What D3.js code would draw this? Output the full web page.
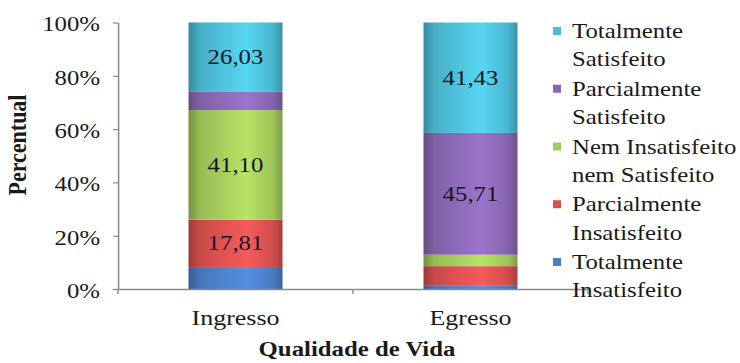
<!DOCTYPE html>
<html>
<head>
<meta charset="utf-8">
<script src="https://cdn.jsdelivr.net/npm/d3@7/dist/d3.min.js"></script>
<style>
  html, body { margin: 0; padding: 0; background: #fff; }
  svg { display: block; font-family: "Liberation Serif", "Times New Roman", serif; }
</style>
</head>
<body>
<div id="chart"></div>
<script>
// Qualidade de Vida: satisfaction distribution at entry (Ingresso) and exit (Egresso)
const categories = ["Ingresso", "Egresso"];
const seriesNames = [
  "Totalmente Insatisfeito",
  "Parcialmente Insatisfeito",
  "Nem Insatisfeito nem Satisfeito",
  "Parcialmente Satisfeito",
  "Totalmente Satisfeito"
];
const legendLines = [
  ["Totalmente", "Insatisfeito"],
  ["Parcialmente", "Insatisfeito"],
  ["Nem Insatisfeito", "nem Satisfeito"],
  ["Parcialmente", "Satisfeito"],
  ["Totalmente", "Satisfeito"]
];
const ingressoValues = [8.22, 17.81, 41.10, 6.85, 26.03];
const egressoValues = [1.43, 7.14, 4.29, 45.71, 41.43];
const seriesColors = ["#4a7fc8", "#d9504f", "#a3c95a", "#8a67b3", "#4cbdd6"];
const yTicks = [0, 20, 40, 60, 80, 100];
const labelMin = 10; // segments below this share are left unlabelled

const W = 740, H = 363;
const S = 1.18;               // horizontal stretch of the whole drawing
const px = v => v / S;        // screen x -> drawing x

const ptBR = d3.formatLocale({ decimal: ",", thousands: ".", grouping: [3], currency: ["R$", ""] });
const fmt = ptBR.format(".2f");

const rows = categories.map((c, i) => {
  const vals = i === 0 ? ingressoValues : egressoValues;
  const r = { category: c };
  seriesNames.forEach((s, j) => { r[s] = vals[j]; });
  return r;
});
const stacked = d3.stack().keys(seriesNames)(rows);

const svg = d3.select("#chart").append("svg")
  .attr("width", W).attr("height", H);

const defs = svg.append("defs");
seriesColors.forEach((c, i) => {
  const base = d3.color(c);
  const g = defs.append("linearGradient").attr("id", "cyl" + i)
    .attr("x1", 0).attr("x2", 1).attr("y1", 0).attr("y2", 0);
  [[0, base.darker(0.9)], [0.12, base.darker(0.2)], [0.62, base.brighter(0.35)],
   [0.9, base.darker(0.1)], [1, base.darker(0.7)]].forEach(([o, col]) => {
    g.append("stop").attr("offset", o).attr("stop-color", col.formatHex());
  });
});

const root = svg.append("g").attr("transform", `scale(${S},1)`);

const x = d3.scaleBand().domain(categories)
  .range([px(118), px(588)]).paddingInner(0.6).paddingOuter(0.3);
const y = d3.scaleLinear().domain([0, 100]).range([289, 22.5]);

// bars
const layer = root.selectAll("g.series").data(stacked).join("g")
  .attr("class", "series")
  .attr("fill", (d, i) => `url(#cyl${i})`);
layer.selectAll("rect").data(d => d).join("rect")
  .attr("x", d => x(d.data.category))
  .attr("width", x.bandwidth())
  .attr("y", d => y(d[1]))
  .attr("height", d => y(d[0]) - y(d[1]));

// value labels
stacked.forEach(s => {
  root.append("g").selectAll("text").data(s.filter(d => d[1] - d[0] >= labelMin)).join("text")
    .attr("x", d => x(d.data.category) + x.bandwidth() / 2)
    .attr("y", d => (y(d[0]) + y(d[1])) / 2 + 7)
    .attr("text-anchor", "middle")
    .attr("font-size", 21)
    .attr("fill", "#151525")
    .text(d => fmt(d[1] - d[0]));
});

// y axis
const yAxis = root.append("g").attr("transform", `translate(${px(118)},0)`)
  .call(d3.axisLeft(y).tickValues(yTicks).tickFormat(d => d + "%")
    .tickSize(px(5)).tickSizeOuter(0).tickPadding(px(13)));
yAxis.select(".domain").attr("stroke", "#8a8a8a").attr("stroke-width", 1.3);
yAxis.selectAll(".tick line").attr("stroke", "#8a8a8a").attr("stroke-width", 1.2);
yAxis.selectAll(".tick text").attr("font-size", 21).attr("fill", "#1a1a1a")
  .attr("font-family", "Liberation Serif, serif").attr("dy", "0.4em");

// x axis
const xAxis = root.append("g").attr("transform", "translate(0,289)")
  .call(d3.axisBottom(x).tickSize(0).tickSizeOuter(0).tickPadding(0));
xAxis.select(".domain").attr("stroke", "#8a8a8a").attr("stroke-width", 1.5);
xAxis.selectAll(".tick text").attr("font-size", 22).attr("fill", "#1a1a1a")
  .attr("font-family", "Liberation Serif, serif").attr("y", 36).attr("dy", 0);
const bounds = d3.range(categories.length + 1).map(k => x.range()[0] + k * x.step());
xAxis.selectAll("line.bound").data(bounds).join("line")
  .attr("class", "bound")
  .attr("x1", d => d).attr("x2", d => d).attr("y1", 0).attr("y2", 5)
  .attr("stroke", "#8a8a8a").attr("stroke-width", 1.2);

// axis titles
root.append("text")
  .attr("transform", `translate(${px(26)},${145}) rotate(-90)`)
  .attr("text-anchor", "middle")
  .attr("font-size", 22).attr("font-weight", "bold").attr("fill", "#1a1a1a")
  .text("Percentual");
root.append("text")
  .attr("x", px(357)).attr("y", 356)
  .attr("text-anchor", "middle")
  .attr("font-size", 21).attr("font-weight", "bold").attr("fill", "#1a1a1a")
  .text("Qualidade de Vida");

// legend (top entry = last series)
const legendOrder = d3.range(seriesNames.length).reverse();
const leg = root.append("g").selectAll("g").data(legendOrder).join("g")
  .attr("transform", (d, i) => `translate(${px(553)},${38 + i * 57.75})`);
leg.append("rect")
  .attr("x", 0).attr("y", -11).attr("width", px(8)).attr("height", 8)
  .attr("fill", d => seriesColors[d]);
const lt = leg.append("text")
  .attr("x", px(19)).attr("y", 0)
  .attr("font-size", 21).attr("fill", "#1a1a1a");
lt.selectAll("tspan").data(d => legendLines[d]).join("tspan")
  .attr("x", px(19))
  .attr("dy", (d, i) => i === 0 ? 0 : 28.5)
  .text(d => d);
</script>
</body>
</html>
